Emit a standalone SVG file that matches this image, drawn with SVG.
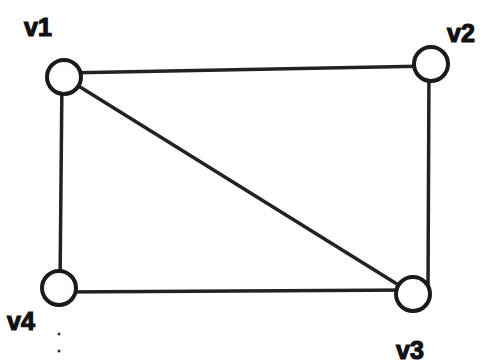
<svg xmlns="http://www.w3.org/2000/svg" width="485" height="364" viewBox="0 0 485 364">
<style>
.e{stroke:#222;stroke-width:3.5;fill:none}
.n{fill:#fff;stroke:#1a1a1a;stroke-width:4}
.t{font-family:"Liberation Sans",Arial,sans-serif;font-weight:bold;font-size:25px;fill:#111;stroke:#111;stroke-width:1.2}
</style>
<rect width="485" height="364" fill="#fff"/>
<g id="edges">
<line class="e" x1="64" y1="73" x2="431" y2="66"/>
<line class="e" x1="62" y1="77" x2="60" y2="288"/>
<line class="e" x1="429" y1="64" x2="428" y2="292"/>
<line class="e" x1="60" y1="292" x2="413" y2="290"/>
<line class="e" x1="64" y1="77" x2="413" y2="294"/>
</g>
<g id="v1"><circle class="n" cx="64" cy="77" r="17"/><text class="t" x="24" y="36">v1</text></g>
<g id="v2"><circle class="n" cx="431" cy="64" r="17"/><text class="t" x="447" y="42">v2</text></g>
<g id="v3"><circle class="n" cx="413" cy="294" r="17"/><text class="t" x="396" y="359">v3</text></g>
<g id="v4"><circle class="n" cx="59" cy="288" r="17"/><text class="t" x="7" y="330">v4</text></g>
<g id="marks" fill="#333"><circle cx="59" cy="334" r="1.5"/><circle cx="59" cy="351" r="1.5"/></g>
</svg>
